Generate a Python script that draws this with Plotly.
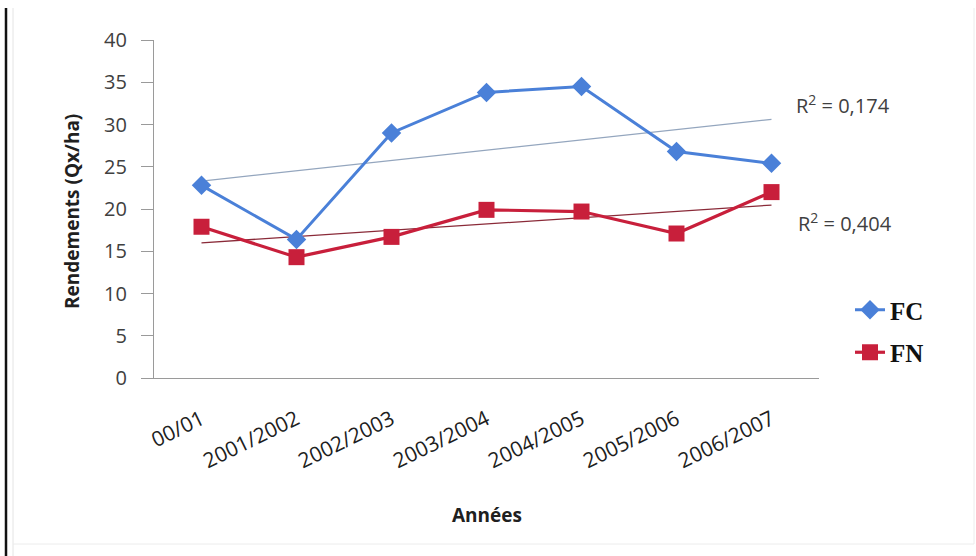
import numpy as np
import plotly.graph_objects as go

# Campagnes agricoles
annees = ["00/01", "2001/2002", "2002/2003", "2003/2004", "2004/2005", "2005/2006", "2006/2007"]

# Rendements (Qx/ha)
rendement_fc = [22.8, 16.4, 29.0, 33.8, 34.5, 26.8, 25.4]
rendement_fn = [17.9, 14.3, 16.7, 19.9, 19.7, 17.1, 22.0]

# Coefficients de détermination affichés
r2_fc_label = 0.174
r2_fn_label = 0.404

y_ticks = [0, 5, 10, 15, 20, 25, 30, 35, 40]

FC_COLOR = "#4A80D8"
FN_COLOR = "#C81F3B"
TEXT_GREY = "#404040"
FONT = "Open Sans"

W, H = 976, 556
L, R, T, B = 154, 157, 40, 178
PW, PH = W - L - R, H - T - B

x_idx = np.arange(len(annees))


def px(xp):
    """Figure pixel column -> plot-area paper coordinate."""
    return (xp - L) / PW


def py(yp):
    """Figure pixel row -> plot-area paper coordinate."""
    return (H - B - yp) / PH


def linear_trend(values):
    slope, intercept = np.polyfit(x_idx, values, 1)
    return slope * x_idx + intercept


trend_fc = linear_trend(rendement_fc)
trend_fn = linear_trend(rendement_fn)

fig = go.Figure()

# Linear trend lines
fig.add_trace(go.Scatter(
    x=x_idx, y=trend_fc, mode="lines", showlegend=False, hoverinfo="skip",
    line=dict(color="#94A6BE", width=1.3),
))
fig.add_trace(go.Scatter(
    x=x_idx, y=trend_fn, mode="lines", showlegend=False, hoverinfo="skip",
    line=dict(color="#8A2A38", width=1.3),
))

# Data series
fig.add_trace(go.Scatter(
    x=x_idx, y=rendement_fc, mode="lines+markers", name="FC", legendgroup="fc",
    line=dict(color=FC_COLOR, width=3),
    marker=dict(symbol="diamond", size=15, color=FC_COLOR),
))
fig.add_trace(go.Scatter(
    x=x_idx, y=rendement_fn, mode="lines+markers", name="FN", legendgroup="fn",
    line=dict(color=FN_COLOR, width=3.2),
    marker=dict(symbol="square", size=16, color=FN_COLOR),
))


def r2_text(v):
    return "R<sup>2</sup> = " + f"{v:.3f}".replace(".", ",")


annotations = [
    dict(x=6.24, y=trend_fc[-1] + 1.7, xref="x", yref="y", text=r2_text(r2_fc_label),
         showarrow=False, xanchor="left", yanchor="middle",
         font=dict(size=20, color=TEXT_GREY, family=FONT)),
    dict(x=6.26, y=trend_fn[-1] - 2.1, xref="x", yref="y", text=r2_text(r2_fn_label),
         showarrow=False, xanchor="left", yanchor="middle",
         font=dict(size=20, color=TEXT_GREY, family=FONT)),
    dict(x=px(72), y=py(212), xref="paper", yref="paper", text="<b>Rendements (Qx/ha)</b>",
         textangle=-90, showarrow=False, xanchor="center", yanchor="middle",
         font=dict(size=19, color="#202020", family=FONT)),
    dict(x=px(487), y=py(515), xref="paper", yref="paper", text="<b>Années</b>",
         showarrow=False, xanchor="center", yanchor="middle",
         font=dict(size=19, color="#202020", family=FONT)),
]

shapes = [
    dict(type="line", xref="paper", yref="paper", x0=px(6), x1=px(6), y0=py(H), y1=py(8),
         line=dict(color="#111111", width=2.5)),
    dict(type="line", xref="paper", yref="paper", x0=px(13), x1=px(13), y0=py(H), y1=py(8),
         line=dict(color="#E4E4E4", width=1)),
    dict(type="line", xref="paper", yref="paper", x0=px(13), x1=px(974), y0=py(544), y1=py(544),
         line=dict(color="#ECECEC", width=1)),
    dict(type="line", xref="paper", yref="paper", x0=px(974), x1=px(974), y0=py(544), y1=py(8),
         line=dict(color="#ECECEC", width=1)),
]

fig.update_layout(
    width=W, height=H,
    margin=dict(l=L, r=R, t=T, b=B),
    paper_bgcolor="white", plot_bgcolor="white",
    font=dict(family=FONT, color=TEXT_GREY),
    showlegend=True,
    legend=dict(
        x=px(850), y=py(287), xanchor="left", yanchor="top",
        font=dict(family="Liberation Serif", size=25, color="#111111", weight="bold"),
        traceorder="grouped", tracegroupgap=7, itemwidth=30,
        bgcolor="rgba(0,0,0,0)",
    ),
    xaxis=dict(
        range=[-0.5, 6.5], tickmode="array", tickvals=x_idx, ticktext=annees,
        tickangle=-26, showgrid=False, zeroline=False,
        showline=True, linecolor="#9A9A9A", linewidth=1.2,
        ticks="", ticklabelstandoff=20,
        tickfont=dict(size=21, color="#202020"),
    ),
    yaxis=dict(
        range=[0, 40], tickvals=y_ticks, showgrid=False, zeroline=False,
        showline=True, linecolor="#9A9A9A", linewidth=1.2,
        ticks="outside", ticklen=12, tickcolor="#9A9A9A", tickwidth=1.2,
        ticklabelstandoff=10,
        tickfont=dict(size=20, color=TEXT_GREY),
    ),
    annotations=annotations,
    shapes=shapes,
)

fig.write_html("out.html")
